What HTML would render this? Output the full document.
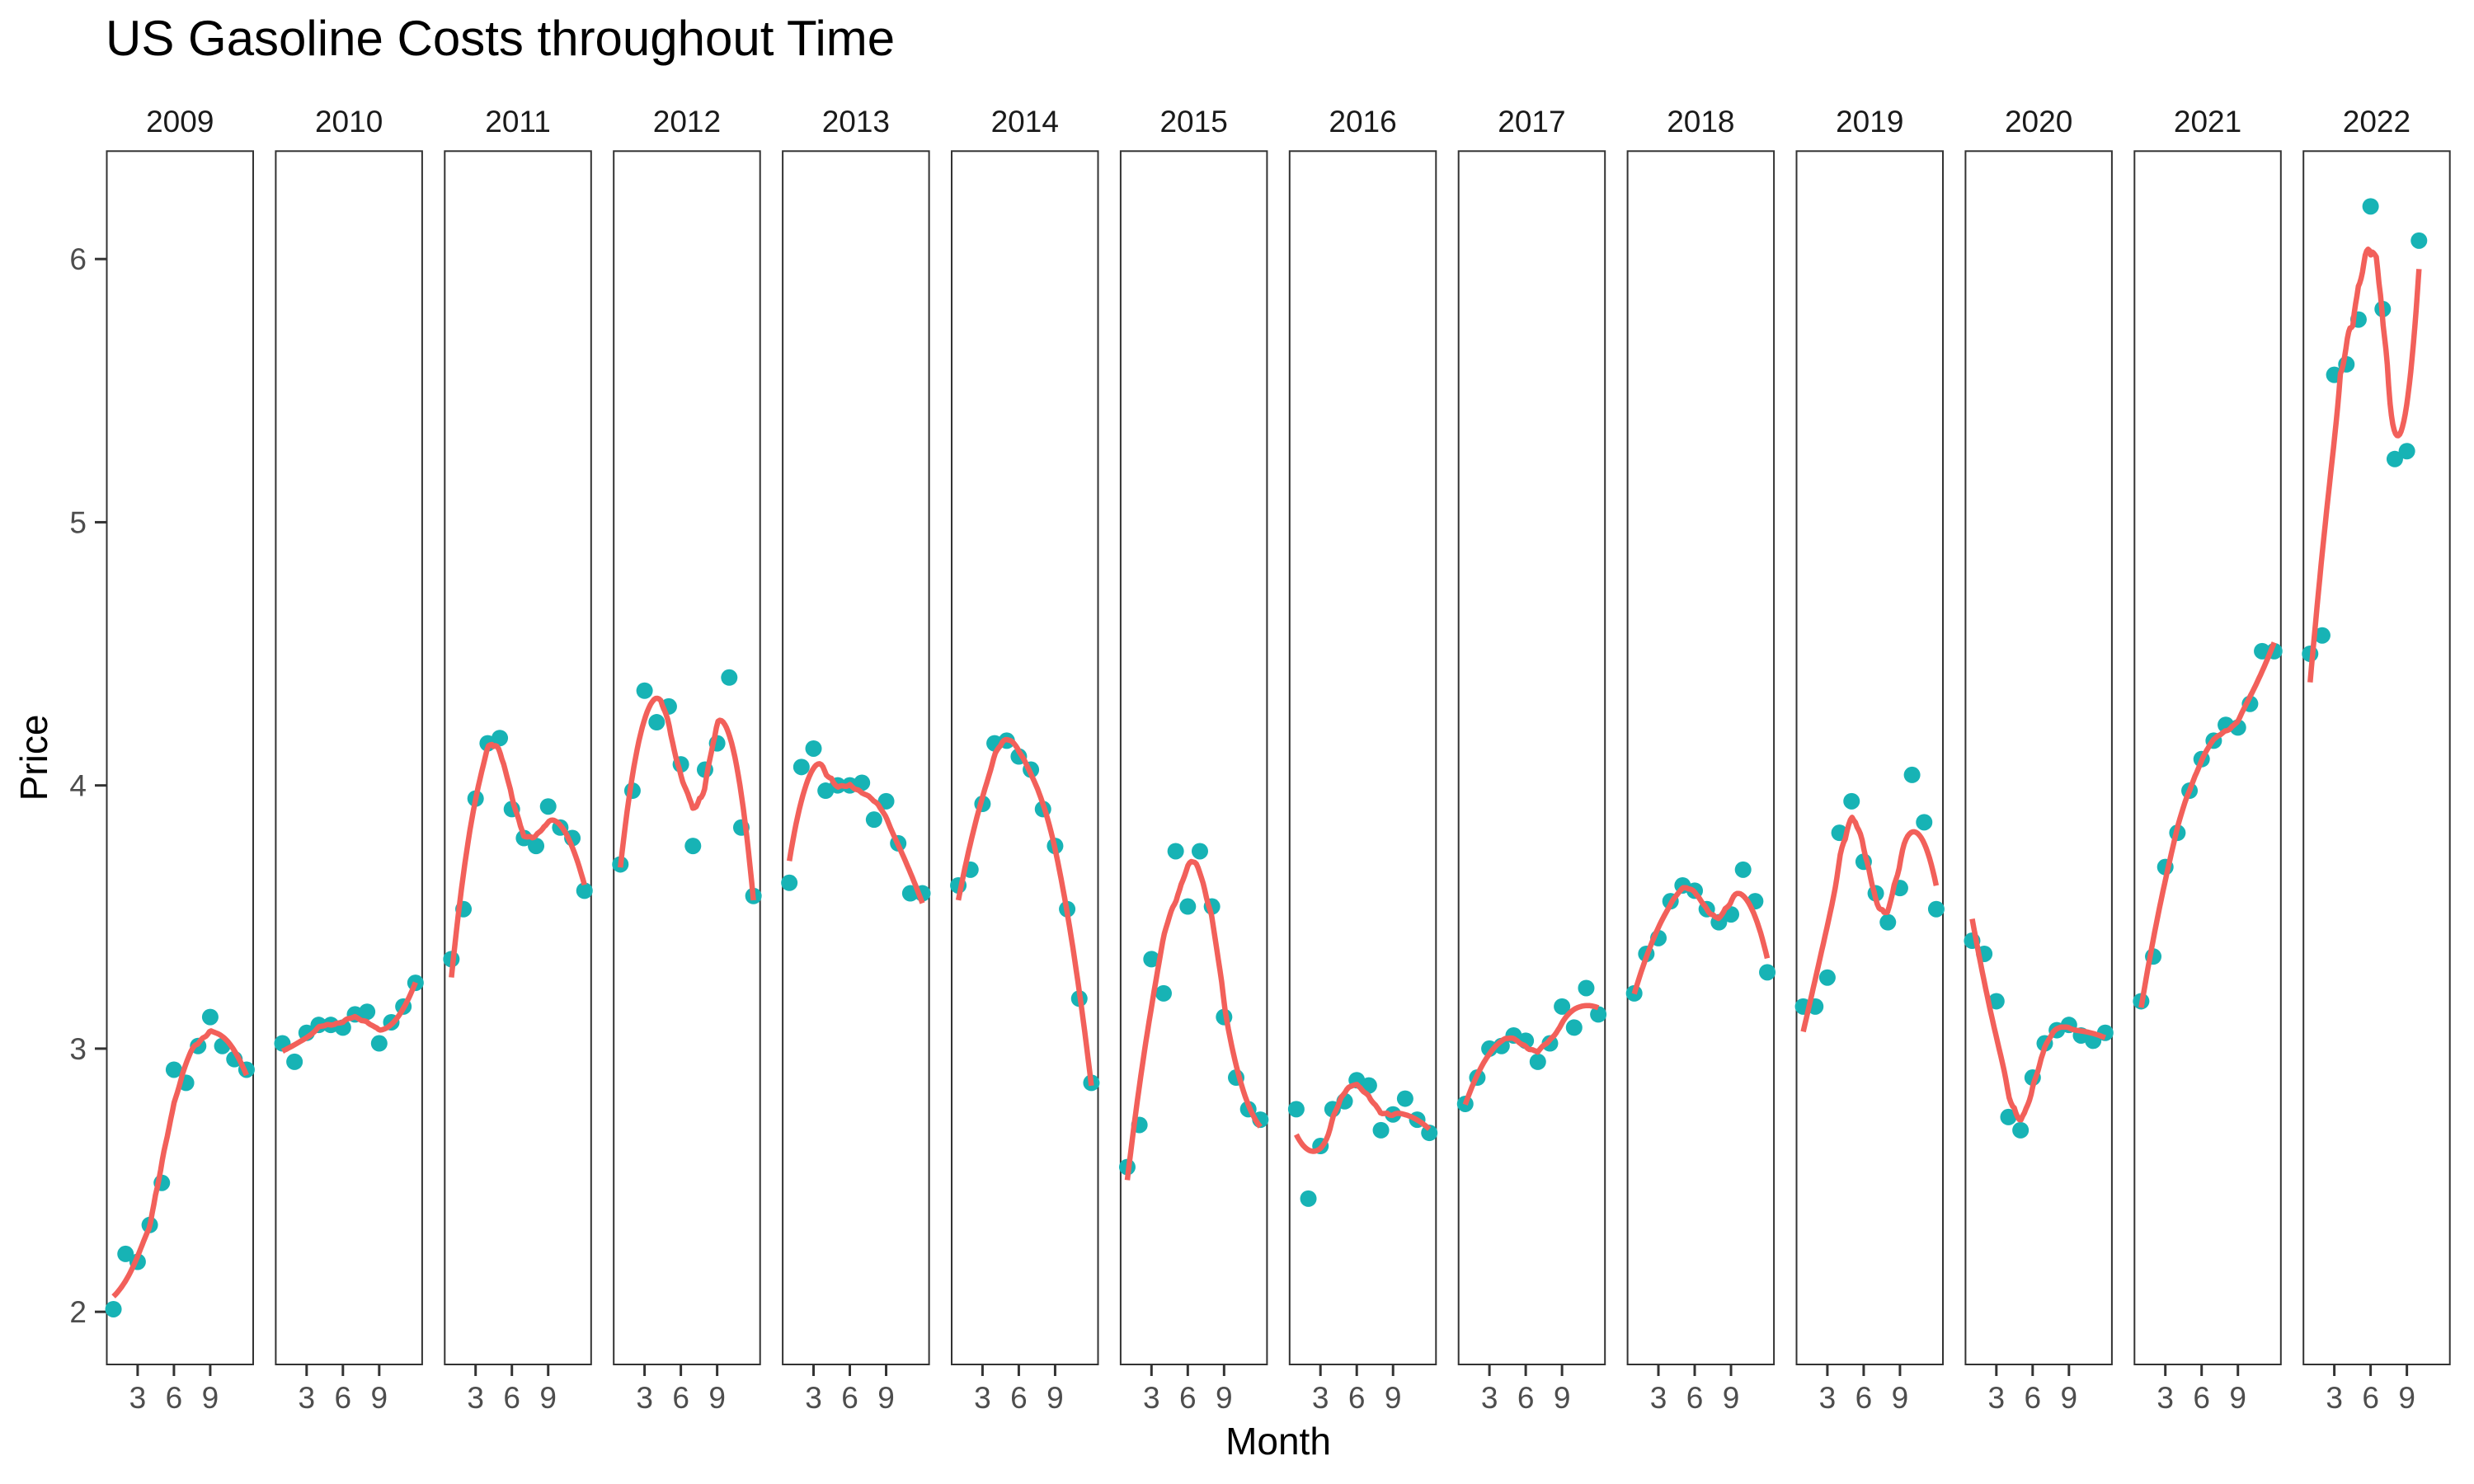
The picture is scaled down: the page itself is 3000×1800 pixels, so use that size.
<!DOCTYPE html>
<html><head><meta charset="utf-8"><style>
html,body{margin:0;padding:0;background:#fff;}
svg{display:block;font-family:"Liberation Sans",Arial,sans-serif;}
</style></head><body>
<svg id="chart" width="3000" height="1800" viewBox="0 0 3000 1800" xmlns="http://www.w3.org/2000/svg">
<rect x="0" y="0" width="3000" height="1800" fill="#fff"/>
<text x="128" y="67" font-size="60" fill="#000">US Gasoline Costs throughout Time</text>
<text x="1550" y="1764" font-size="46" fill="#000" text-anchor="middle">Month</text>
<text transform="translate(57,919) rotate(-90)" font-size="46" fill="#000" text-anchor="middle">Price</text>
<g id="plot"></g>
</svg>
<script>
const years = [2009,2010,2011,2012,2013,2014,2015,2016,2017,2018,2019,2020,2021,2022];
const p2009 = [2.01,2.22,2.19,2.33,2.49,2.92,2.87,3.01,3.12,3.01,2.96,2.92];
const p2010 = [3.02,2.95,3.06,3.09,3.09,3.08,3.13,3.14,3.02,3.10,3.16,3.25];
const p2011 = [3.34,3.53,3.95,4.16,4.18,3.91,3.80,3.77,3.92,3.84,3.80,3.60];
const p2012 = [3.70,3.98,4.36,4.24,4.30,4.08,3.77,4.06,4.16,4.41,3.84,3.58];
const p2013 = [3.63,4.07,4.14,3.98,4.00,4.00,4.01,3.87,3.94,3.78,3.59,3.59];
const p2014 = [3.62,3.68,3.93,4.16,4.17,4.11,4.06,3.91,3.77,3.53,3.19,2.87];
const p2015 = [2.55,2.71,3.34,3.21,3.75,3.54,3.75,3.54,3.12,2.89,2.77,2.73];
const p2016 = [2.77,2.43,2.63,2.77,2.80,2.88,2.86,2.69,2.75,2.81,2.73,2.68];
const p2017 = [2.79,2.89,3.00,3.01,3.05,3.03,2.95,3.02,3.16,3.08,3.23,3.13];
const p2018 = [3.21,3.36,3.42,3.56,3.62,3.60,3.53,3.48,3.51,3.68,3.56,3.29];
const p2019 = [3.16,3.16,3.27,3.82,3.94,3.71,3.59,3.48,3.61,4.04,3.86,3.53];
const p2020 = [3.41,3.36,3.18,2.74,2.69,2.89,3.02,3.07,3.09,3.05,3.03,3.06];
const p2021 = [3.18,3.35,3.69,3.82,3.98,4.10,4.17,4.23,4.22,4.31,4.51,4.51];
const p2022 = [4.50,4.57,5.56,5.60,5.77,6.20,5.81,5.24,5.27,6.07];
const series = [p2009,p2010,p2011,p2012,p2013,p2014,p2015,p2016,p2017,p2018,p2019,p2020,p2021,p2022];
const yTicks = [2,3,4,5,6];
const xTicks = [3,6,9];

const NS = "http://www.w3.org/2000/svg";
const plot = document.getElementById('plot');
const PL0 = 129.5, PSTEP = 204.9, PW = 177.5, PTOP = 183.3, PBOT = 1655;
const XMIN = 0.45, XMAX = 12.55, YMIN = 1.80, YMAX = 6.41;
function xs(k, m){ return PL0 + k*PSTEP + (m - XMIN)/(XMAX - XMIN)*PW; }
function ys(v){ return PBOT - (v - YMIN)/(YMAX - YMIN)*(PBOT - PTOP); }
function mk(tag, attrs){ const e = document.createElementNS(NS, tag); for (const a in attrs) e.setAttribute(a, attrs[a]); return e; }

function loess(xv, yv, x0, span){
  const n = xv.length, q = Math.max(3, Math.floor(n*span));
  const d = xv.map(x => Math.abs(x - x0)).slice().sort((a,b)=>a-b);
  let h = Math.max(d[q-1]*1.15, 1e-6);
  let S = [0,0,0,0,0], T = [0,0,0];
  for (let i=0;i<n;i++){
    const u = Math.abs(xv[i]-x0)/h; if (u>=1) continue;
    const w = Math.pow(1-u*u*u,3);
    const t = xv[i]-x0;
    S[0]+=w; S[1]+=w*t; S[2]+=w*t*t; S[3]+=w*t*t*t; S[4]+=w*t*t*t*t;
    T[0]+=w*yv[i]; T[1]+=w*t*yv[i]; T[2]+=w*t*t*yv[i];
  }
  const A = [[S[0],S[1],S[2]],[S[1],S[2],S[3]],[S[2],S[3],S[4]]];
  const det = m => m[0][0]*(m[1][1]*m[2][2]-m[1][2]*m[2][1]) - m[0][1]*(m[1][0]*m[2][2]-m[1][2]*m[2][0]) + m[0][2]*(m[1][0]*m[2][1]-m[1][1]*m[2][0]);
  const D = det(A);
  if (Math.abs(D) < 1e-12) return T[0]/S[0];
  const A0 = [[T[0],S[1],S[2]],[T[1],S[2],S[3]],[T[2],S[3],S[4]]];
  return det(A0)/D;
}

yTicks.forEach(v => {
  const y = ys(v);
  const t = mk('line', {x1:115, x2:PL0, y1:y, y2:y, stroke:'#333', 'stroke-width':3});
  
  
  plot.appendChild(t);
  const l = mk('text', {x:105, y:y+13, 'font-size':37, fill:'#4D4D4D', 'text-anchor':'end'});
  l.textContent = v;
  
  
  plot.appendChild(l);
});

years.forEach((yr, k) => {
  const L = PL0 + k*PSTEP;
  const g = mk('g', {});
  
  
  plot.appendChild(g);
  const s = mk('text', {x:L+PW/2, y:160, 'font-size':37, fill:'#1A1A1A', 'text-anchor':'middle'});
  s.textContent = yr;
  
  
  g.appendChild(s);
  const r = mk('rect', {x:L, y:PTOP, width:PW, height:PBOT-PTOP, fill:'none', stroke:'#333', 'stroke-width':2});
  
  
  g.appendChild(r);
  xTicks.forEach(m => {
    const x = xs(k, m);
    const t = mk('line', {x1:x, x2:x, y1:PBOT, y2:PBOT+14, stroke:'#333', 'stroke-width':3});
    
    
    g.appendChild(t);
    const l = mk('text', {x:x, y:1708, 'font-size':37, fill:'#4D4D4D', 'text-anchor':'middle'});
    l.textContent = m;
    
    
    g.appendChild(l);
  });
  const vals = series[k];
  const months = vals.map((_, i) => i + 1);
  vals.forEach((v, i) => {
    const c = mk('circle', {cx:xs(k, months[i]), cy:ys(v), r:10, fill:'#17B3B5'});
    
    
    g.appendChild(c);
  });
  const N = 80, a = months[0], b = months[months.length-1];
  let d = '';
  for (let i=0;i<N;i++){
    const m = a + (b-a)*i/(N-1);
    const v = loess(months, vals, m, 0.6);
    d += (i ? 'L' : 'M') + xs(k, m).toFixed(1) + ',' + ys(v).toFixed(1);
  }
  const p = mk('path', {d:d, fill:'none', stroke:'#F2605A', 'stroke-width':6.5, 'stroke-linejoin':'round'});
  
  
  g.appendChild(p);
});
</script>
</body></html>
